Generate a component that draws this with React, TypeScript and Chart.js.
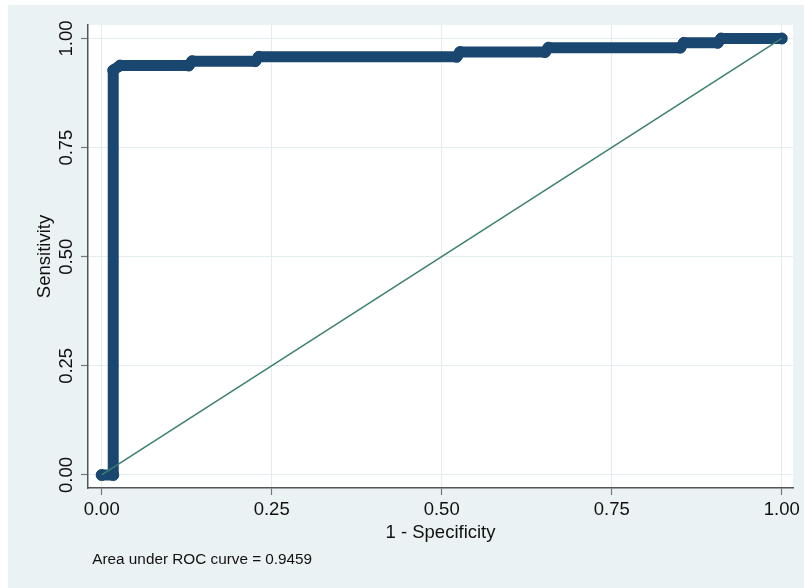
import React, { useEffect, useRef } from "react";
import { Chart, registerables } from "chart.js";

Chart.register(...registerables);

// ROC curve vertices (1 - specificity, sensitivity)
const rocFpr = [0, 0.017, 0.017, 0.027, 0.128, 0.133, 0.226, 0.231, 0.522, 0.527, 0.652, 0.657, 0.851, 0.856, 0.906, 0.911, 1];
const rocTpr = [0, 0, 0.927, 0.938, 0.938, 0.948, 0.948, 0.958, 0.958, 0.969, 0.969, 0.979, 0.979, 0.99, 0.99, 1, 1];

// reference (chance) line
const refX = [0, 1];
const refY = [0, 1];

const xTickValues = [0, 0.25, 0.5, 0.75, 1];
const yTickValues = [0, 0.25, 0.5, 0.75, 1];

const xTitle = "1 - Specificity";
const yTitle = "Sensitivity";
const noteText = "Area under ROC curve = 0.9459";

const FAMILY = '"Liberation Sans", Arial, Helvetica, sans-serif';
const NAVY = "#1A476F";
const GREEN = "#3D7F6E";
const BG = "#EAF2F3";
const GRID = "#E3ECEE";
const AXIS = "#555555";
const TEXT = "#111111";

export default function App() {
  const ref = useRef<HTMLCanvasElement | null>(null);

  useEffect(() => {
    const canvas = ref.current;
    if (!canvas) return;

    const bgPlugin = {
      id: "stataBg",
      beforeDraw(chart: any) {
        const { ctx, chartArea } = chart;
        ctx.save();
        ctx.fillStyle = BG;
        ctx.fillRect(0, 0, chart.width, chart.height);
        ctx.fillStyle = "#FFFFFF";
        ctx.fillRect(chartArea.left, chartArea.top, chartArea.right - chartArea.left, chartArea.bottom - chartArea.top);
        ctx.restore();
      },
      afterDraw(chart: any) {
        const { ctx, chartArea } = chart;
        ctx.save();
        ctx.font = `15.3px ${FAMILY}`;
        ctx.fillStyle = TEXT;
        ctx.textBaseline = "middle";
        ctx.textAlign = "left";
        ctx.fillText(noteText, chartArea.left + 4.3, 555);
        ctx.restore();
      },
    };

    const tickFont = { family: FAMILY, size: 18.5 };
    const fmt = (v: any) => Number(v).toFixed(2);

    const chart = new Chart(canvas, {
      type: "scatter",
      data: {
        datasets: [
          {
            label: "Reference",
            data: refX.map((x, i) => ({ x, y: refY[i] })),
            showLine: true,
            borderColor: GREEN,
            borderWidth: 1.5,
            pointRadius: 0,
            order: 0,
          },
          {
            label: "ROC",
            data: rocFpr.map((x, i) => ({ x, y: rocTpr[i] })),
            showLine: true,
            borderColor: NAVY,
            borderWidth: 11,
            borderJoinStyle: "round",
            borderCapStyle: "round",
            pointRadius: 5.5,
            pointBorderWidth: 1,
            pointBackgroundColor: NAVY,
            pointBorderColor: NAVY,
            order: 1,
          },
        ],
      },
      options: {
        responsive: false,
        animation: false,
        devicePixelRatio: 1,
        layout: { padding: { top: 20, right: 11, bottom: 0, left: 0 } },
        plugins: {
          legend: { display: false },
          tooltip: { enabled: false },
          title: { display: false },
        },
        scales: {
          x: {
            type: "linear",
            min: -0.0201,
            max: 1.0166,
            afterBuildTicks: (s: any) => {
              s.ticks = xTickValues.map((v) => ({ value: v }));
            },
            afterFit: (s: any) => {
              s.height = 100;
              s.paddingLeft = 0;
              s.paddingRight = 0;
            },
            ticks: {
              callback: fmt,
              font: tickFont,
              color: TEXT,
              padding: 4,
              maxRotation: 0,
              minRotation: 0,
              autoSkip: false,
            },
            grid: {
              color: GRID,
              lineWidth: 1,
              tickColor: "#777777",
              tickLength: 7,
              tickWidth: 1.2,
            },
            border: { display: true, color: AXIS, width: 1.5 },
            title: {
              display: true,
              text: xTitle,
              font: tickFont,
              color: TEXT,
              padding: { top: 0, bottom: 44 },
            },
          },
          y: {
            type: "linear",
            min: -0.0298,
            max: 1.0309,
            afterBuildTicks: (s: any) => {
              s.ticks = yTickValues.map((v) => ({ value: v }));
            },
            afterFit: (s: any) => {
              s.width = 80;
              s.paddingTop = 0;
              s.paddingBottom = 0;
            },
            ticks: {
              callback: fmt,
              font: tickFont,
              color: TEXT,
              padding: -4,
              minRotation: 90,
              maxRotation: 90,
              crossAlign: "center",
              autoSkip: false,
            },
            grid: {
              color: GRID,
              lineWidth: 1,
              tickColor: "#777777",
              tickLength: 7,
              tickWidth: 1.2,
            },
            border: { display: true, color: AXIS, width: 1.5 },
            title: {
              display: true,
              text: yTitle,
              font: tickFont,
              color: TEXT,
              padding: { top: 26, bottom: 0 },
            },
          },
        },
      } as any,
      plugins: [bgPlugin],
    });

    return () => chart.destroy();
  }, []);

  return (
    <canvas
      ref={ref}
      width={796}
      height={583}
      style={{ position: "absolute", left: 8, top: 5, width: 796, height: 583, display: "block" }}
    />
  );
}
